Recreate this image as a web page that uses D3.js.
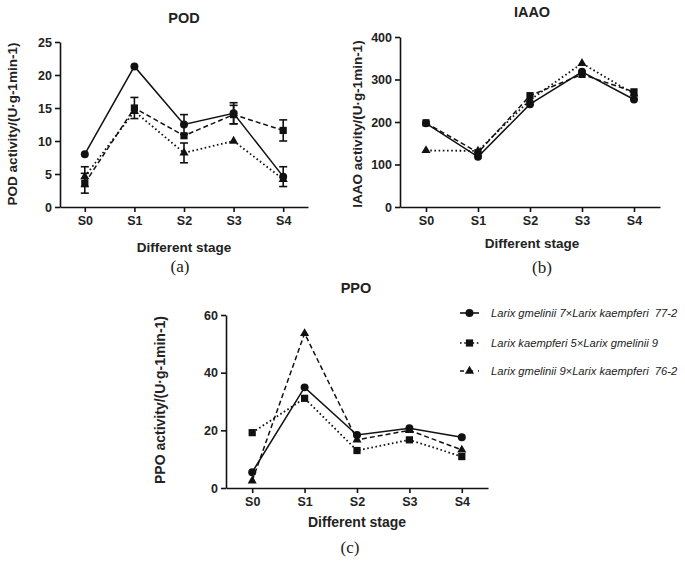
<!DOCTYPE html>
<html>
<head>
<meta charset="utf-8">
<script src="https://cdn.jsdelivr.net/npm/d3@7"></script>
<style>
body { margin: 0; background: #fff; }
svg { display: block; font-family: "Liberation Sans", Arial, sans-serif; }
</style>
</head>
<body>
<script>
const stages = ["S0", "S1", "S2", "S3", "S4"];

// POD
const podGm77 = [8.0, 21.3, 12.5, 14.2, 4.6];
const podGm77Err = [0, 0, 1.5, 1.6, 1.5];
const podKa5 = [3.6, 15.0, 10.8, 14.0, 11.6];
const podKa5Err = [1.5, 1.6, 0, 1.4, 1.6];
const podGm76 = [4.6, 14.5, 8.2, 10.0, 4.2];
const podGm76Err = [1.5, 0, 1.5, 0, 0];
const podTicks = [0, 5, 10, 15, 20, 25];

// IAAO
const iaaoGm77 = [197, 118, 242, 318, 253];
const iaaoKa5 = [198, 128, 262, 312, 271];
const iaaoGm76 = [133, 132, 252, 338, 266];
const iaaoTicks = [0, 100, 200, 300, 400];

// PPO
const ppoGm77 = [5.5, 34.9, 18.4, 20.7, 17.6];
const ppoKa5 = [19.2, 31.1, 13.0, 16.7, 10.9];
const ppoGm76 = [2.5, 53.6, 16.7, 20.0, 13.2];
const ppoTicks = [0, 20, 40, 60];

const legendLabels = [
  "Larix gmelinii 7×Larix kaempferi  77-2",
  "Larix kaempferi 5×Larix gmelinii 9",
  "Larix gmelinii 9×Larix kaempferi  76-2"
];

const W = 685, H = 561;
const SOLID = null, DASHED = "5,3", DOTTED = "1.6,2.6";

const svg = d3.select("body").append("svg")
  .attr("width", W)
  .attr("height", H);

const shapes = {
  circle: d3.symbol().type(d3.symbolCircle).size(50),
  square: d3.symbol().type(d3.symbolSquare).size(52),
  triangle: d3.symbol().type(d3.symbolTriangle).size(36)
};

function panel(cfg) {
  const g = svg.append("g");
  const x = d3.scalePoint().domain(stages).range([cfg.left, cfg.right]).padding(0.5);
  const y = d3.scaleLinear().domain([0, cfg.max]).range([cfg.bottom, cfg.top]);

  const xAxis = g.append("g")
    .attr("transform", "translate(0," + cfg.bottom + ")")
    .call(d3.axisBottom(x).tickSize(5).tickSizeOuter(0).tickPadding(4));
  const yAxis = g.append("g")
    .attr("transform", "translate(" + cfg.left + ",0)")
    .call(d3.axisLeft(y).tickValues(cfg.ticks).tickSize(5).tickSizeOuter(0).tickPadding(3));

  [xAxis, yAxis].forEach(a => {
    a.selectAll("path, line").attr("stroke", "#111").attr("stroke-width", 1.6);
    a.selectAll("text")
      .attr("fill", "#222")
      .style("font-weight", "bold")
      .style("font-size", "12.5px");
  });

  const line = d3.line().x((d, i) => x(stages[i])).y(d => y(d));

  cfg.series.forEach(s => {
    g.append("path")
      .attr("d", line(s.values))
      .attr("fill", "none")
      .attr("stroke", "#111")
      .attr("stroke-width", s.dash === DOTTED ? 1.8 : 1.5)
      .attr("stroke-dasharray", s.dash);
  });

  cfg.series.forEach(s => {
    if (!s.err) return;
    s.values.forEach((v, i) => {
      const e = s.err[i];
      if (!e) return;
      const cx = x(stages[i]);
      const eg = g.append("g").attr("stroke", "#111").attr("stroke-width", 1.6);
      eg.append("line").attr("x1", cx).attr("x2", cx).attr("y1", y(v - e)).attr("y2", y(v + e));
      eg.append("line").attr("x1", cx - 4).attr("x2", cx + 4).attr("y1", y(v - e)).attr("y2", y(v - e));
      eg.append("line").attr("x1", cx - 4).attr("x2", cx + 4).attr("y1", y(v + e)).attr("y2", y(v + e));
    });
  });

  cfg.series.forEach(s => {
    g.selectAll(null)
      .data(s.values)
      .enter()
      .append("path")
      .attr("d", shapes[s.shape])
      .attr("transform", (d, i) => "translate(" + x(stages[i]) + "," + y(d) + ")")
      .attr("fill", "#111");
  });

  g.append("text")
    .attr("x", cfg.titleX).attr("y", cfg.titleY)
    .attr("text-anchor", "middle")
    .style("font-weight", "bold").style("font-size", "14.5px")
    .attr("fill", "#222")
    .text(cfg.title);

  g.append("text")
    .attr("transform", "translate(" + cfg.ylabX + "," + cfg.ylabY + ") rotate(-90)")
    .attr("text-anchor", "middle")
    .attr("dy", "0.35em")
    .style("font-weight", "bold").style("font-size", cfg.labSize)
    .attr("fill", "#222")
    .text(cfg.title + " activity/(U·g-1min-1)");

  g.append("text")
    .attr("x", cfg.xlabX).attr("y", cfg.xlabY)
    .attr("text-anchor", "middle")
    .style("font-weight", "bold").style("font-size", cfg.labSize)
    .attr("fill", "#222")
    .text("Different stage");

  g.append("text")
    .attr("x", cfg.capX).attr("y", cfg.capY)
    .attr("text-anchor", "middle")
    .style("font-family", "'Liberation Serif', 'Times New Roman', serif")
    .style("font-size", "17px")
    .attr("fill", "#222")
    .text(cfg.caption);
}

panel({
  title: "POD", caption: "(a)", max: 25, ticks: podTicks,
  left: 60, right: 308, top: 42, bottom: 207,
  titleX: 184, titleY: 23, ylabX: 12, ylabY: 124, labSize: "13.5px",
  xlabX: 184, xlabY: 252, capX: 180, capY: 272,
  series: [
    { values: podGm77, err: podGm77Err, shape: "circle", dash: SOLID },
    { values: podKa5, err: podKa5Err, shape: "square", dash: DASHED },
    { values: podGm76, err: podGm76Err, shape: "triangle", dash: DOTTED }
  ]
});

panel({
  title: "IAAO", caption: "(b)", max: 400, ticks: iaaoTicks,
  left: 400, right: 660, top: 37, bottom: 207,
  titleX: 532, titleY: 17, ylabX: 357, ylabY: 124, labSize: "13.5px",
  xlabX: 532, xlabY: 248, capX: 542, capY: 273,
  series: [
    { values: iaaoGm77, err: null, shape: "circle", dash: SOLID },
    { values: iaaoKa5, err: null, shape: "square", dash: DASHED },
    { values: iaaoGm76, err: null, shape: "triangle", dash: DOTTED }
  ]
});

panel({
  title: "PPO", caption: "(c)", max: 60, ticks: ppoTicks,
  left: 226, right: 488, top: 315, bottom: 488,
  titleX: 356, titleY: 293, ylabX: 160, ylabY: 400, labSize: "14px",
  xlabX: 357, xlabY: 527, capX: 350, capY: 553,
  series: [
    { values: ppoGm77, err: null, shape: "circle", dash: SOLID },
    { values: ppoKa5, err: null, shape: "square", dash: DOTTED },
    { values: ppoGm76, err: null, shape: "triangle", dash: DASHED }
  ]
});

// legend
const legendItems = [
  { label: legendLabels[0], shape: "circle", dash: SOLID },
  { label: legendLabels[1], shape: "square", dash: DOTTED },
  { label: legendLabels[2], shape: "triangle", dash: DASHED }
];
const legend = svg.append("g").attr("transform", "translate(460,313)");
legend.selectAll("g")
  .data(legendItems)
  .enter()
  .append("g")
  .attr("transform", (d, i) => "translate(0," + [0, 30, 58][i] + ")")
  .each(function(d) {
    const row = d3.select(this);
    row.append("line")
      .attr("x1", 0).attr("x2", 19)
      .attr("stroke", "#111").attr("stroke-width", 1.6)
      .attr("stroke-dasharray", d.dash === DASHED ? "4,5" : d.dash);
    row.append("path")
      .attr("d", shapes[d.shape])
      .attr("transform", "translate(9.5,0)")
      .attr("fill", "#111");
    row.append("text")
      .attr("x", 31).attr("dy", "0.35em")
      .style("font-style", "italic").style("font-size", "11.2px")
      .attr("fill", "#222")
      .style("white-space", "pre")
      .text(d.label);
  });
</script>
</body>
</html>
